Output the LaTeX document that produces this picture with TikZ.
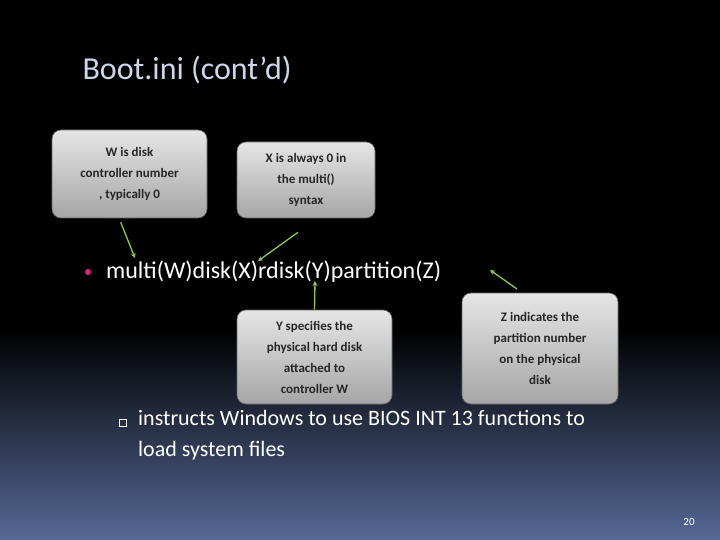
\documentclass[tikz,border=0pt]{standalone}
\usepackage{fontspec}
\setmainfont{Carlito}
\usetikzlibrary{arrows.meta}
\definecolor{bluebg}{RGB}{85,105,150}
\definecolor{titlec}{RGB}{205,215,235}
\definecolor{arr}{RGB}{140,200,90}
\definecolor{bul}{RGB}{215,40,120}
\begin{document}
\begin{tikzpicture}[x=1pt,y=-1pt,
  box/.style={draw=black!60,line width=0.6pt,rounded corners=9pt,top color=gray!20,bottom color=gray!70,
    align=center,font=\bfseries\fontsize{13}{21}\selectfont,text=black!85,inner sep=0pt},
  con/.style={draw=arr,line width=1.3pt,-{Stealth[length=5pt,width=5pt]}}]
\useasboundingbox (0,0) rectangle (720,540);
\fill[black] (0,0) rectangle (720,331);
\shade[top color=black,bottom color=bluebg] (0,330) rectangle (720,540);
\node[anchor=west,text=titlec,font=\fontsize{32}{36}\selectfont] (title) at (79,70) {Boot.ini (cont’d)};
\node[box,minimum width=155pt,minimum height=88pt] (w) at (129.5,174) {W is disk\\controller number\\, typically 0};
\node[box,minimum width=138pt,minimum height=76pt] (x) at (306,180) {X is always 0 in\\the multi()\\syntax};
\node[box,minimum width=155pt,minimum height=94pt] (y) at (314.5,357) {Y specifies the\\physical hard disk\\attached to\\controller W};
\node[box,minimum width=156pt,minimum height=111pt] (z) at (540,348.5) {Z indicates the\\partition number\\on the physical\\disk};
\fill[bul] (88,272) circle (3pt);
\node[anchor=west,text=white,font=\fontsize{24}{28}\selectfont,inner sep=0pt] (m) at (106,272) {multi(W)disk(X)rdisk(Y)partition(Z)};
\coordinate (wt) at (135,258);
\coordinate (xt) at (258,261);
\coordinate (yt) at (315,281);
\coordinate (zt) at (490,270);
\coordinate (zs) at (517,289);
\draw[con] (w.south west)++(69,4) -- (wt);
\draw[con] (x.south)++(-8,14) -- (xt);
\draw[con] (y.north) -- (yt);
\draw[con] (zs) -- (zt);
\draw[white!70,line width=0.6pt] (119.5,419.5) rectangle (126.5,426.5);
\node[anchor=north west,text=white,font=\fontsize{22}{31}\selectfont,align=left,inner sep=0pt] (t) at (138,410) {instructs Windows to use BIOS INT 13 functions to\\load system files};
\node[text=white,font=\fontsize{11}{13}\selectfont] (pg) at (689,522) {20};
\end{tikzpicture}
\end{document}
